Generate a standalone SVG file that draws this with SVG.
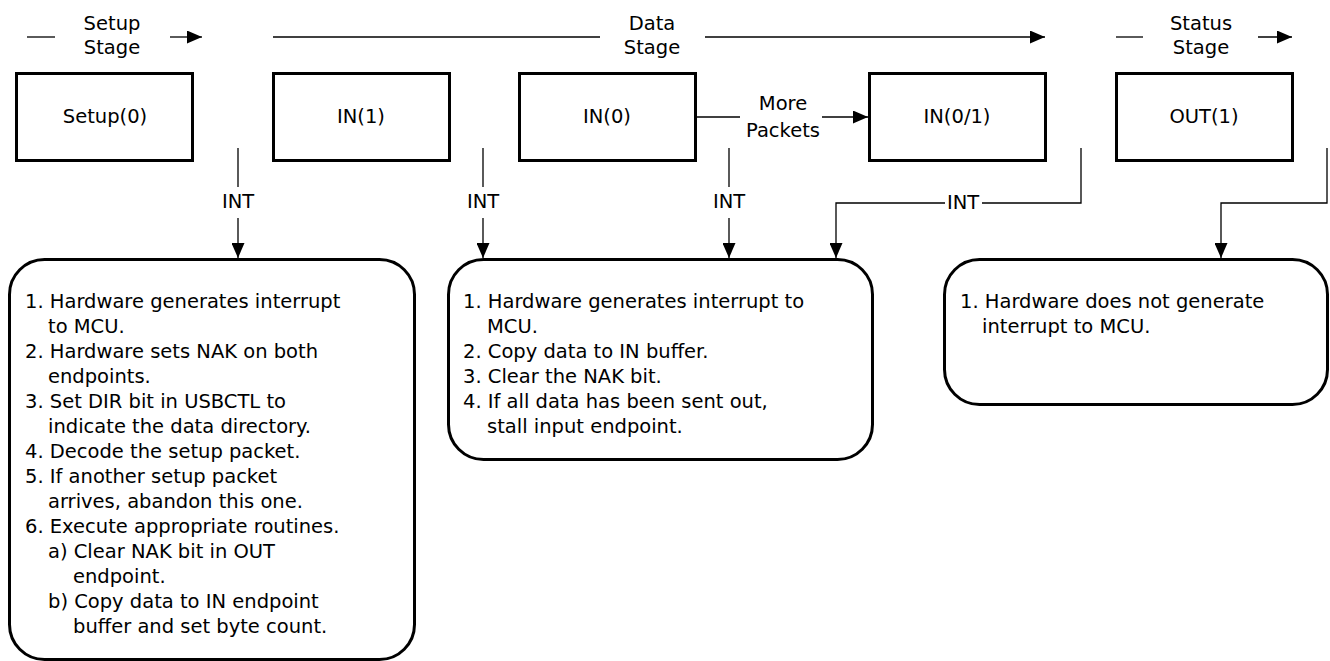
<svg xmlns="http://www.w3.org/2000/svg" width="1330" height="661" viewBox="0 0 1330 661">
<style>
text{font-family:"DejaVu Sans","Liberation Sans",sans-serif;font-size:19.5px;fill:#000}
.c{text-anchor:middle}
.node{fill:#fff;stroke:#000;stroke-width:3}
.line{fill:none;stroke:#000;stroke-width:1.3}
</style>
<defs>
<marker id="ah" markerWidth="15" markerHeight="13" refX="15" refY="6.5" orient="auto" markerUnits="userSpaceOnUse">
<path d="M0,0 L15,6.5 L0,13 Z" fill="#000"/>
</marker>
</defs>
<rect width="1330" height="661" fill="#fff"/>
<g id="stages">
<text class="c" x="112" y="30">Setup</text>
<text class="c" x="112" y="54">Stage</text>
<text class="c" x="652" y="30">Data</text>
<text class="c" x="652" y="54">Stage</text>
<text class="c" x="1201" y="30">Status</text>
<text class="c" x="1201" y="54">Stage</text>
</g>
<g id="n-setup0"><rect class="node" x="16.5" y="73.5" width="176" height="87"/><text class="c" x="105" y="123">Setup(0)</text></g>
<g id="n-in1"><rect class="node" x="273.5" y="73.5" width="176" height="87"/><text class="c" x="361" y="123">IN(1)</text></g>
<g id="n-in0"><rect class="node" x="519.5" y="73.5" width="176" height="87"/><text class="c" x="607" y="123">IN(0)</text></g>
<g id="n-in01"><rect class="node" x="869.5" y="73.5" width="176" height="87"/><text class="c" x="957" y="123">IN(0/1)</text></g>
<g id="n-out1"><rect class="node" x="1116.5" y="73.5" width="176" height="87"/><text class="c" x="1204" y="123">OUT(1)</text></g>
<g id="b-setup">
<rect class="node" x="9.5" y="259.5" width="405" height="400" rx="35" ry="35"/>
<text x="25" y="308">1. Hardware generates interrupt</text>
<text x="48" y="333">to MCU.</text>
<text x="25" y="358">2. Hardware sets NAK on both</text>
<text x="48" y="383">endpoints.</text>
<text x="25" y="408">3. Set DIR bit in USBCTL to</text>
<text x="48" y="433">indicate the data directory.</text>
<text x="25" y="458">4. Decode the setup packet.</text>
<text x="25" y="483">5. If another setup packet</text>
<text x="48" y="508">arrives, abandon this one.</text>
<text x="25" y="533">6. Execute appropriate routines.</text>
<text x="48" y="558">a) Clear NAK bit in OUT</text>
<text x="73" y="583">endpoint.</text>
<text x="48" y="608">b) Copy data to IN endpoint</text>
<text x="73" y="633">buffer and set byte count.</text>
</g>
<g id="b-data">
<rect class="node" x="448.5" y="259.5" width="424" height="200" rx="35" ry="35"/>
<text x="463" y="308">1. Hardware generates interrupt to</text>
<text x="487" y="333">MCU.</text>
<text x="463" y="358">2. Copy data to IN buffer.</text>
<text x="463" y="383">3. Clear the NAK bit.</text>
<text x="463" y="408">4. If all data has been sent out,</text>
<text x="487" y="433">stall input endpoint.</text>
</g>
<g id="b-status">
<rect class="node" x="944.5" y="259.5" width="383" height="145" rx="35" ry="35"/>
<text x="960" y="308">1. Hardware does not generate</text>
<text x="982" y="333">interrupt to MCU.</text>
</g>
<g id="connectors">
<path class="line" d="M27,37 H55"/>
<path class="line" d="M170,37 H202" marker-end="url(#ah)"/>
<path class="line" d="M273,37 H600"/>
<path class="line" d="M705,37 H1045" marker-end="url(#ah)"/>
<path class="line" d="M1116,37 H1143"/>
<path class="line" d="M1258,37 H1292" marker-end="url(#ah)"/>
<path class="line" d="M696,117 H740"/>
<path class="line" d="M822,117 H868" marker-end="url(#ah)"/>
<text class="c" x="783" y="110">More</text>
<text class="c" x="783" y="137">Packets</text>
<path class="line" d="M238,148 V187"/>
<path class="line" d="M238,218 V258" marker-end="url(#ah)"/>
<text class="c" x="238" y="208">INT</text>
<path class="line" d="M483,148 V187"/>
<path class="line" d="M483,218 V258" marker-end="url(#ah)"/>
<text class="c" x="483" y="208">INT</text>
<path class="line" d="M729,148 V187"/>
<path class="line" d="M729,218 V258" marker-end="url(#ah)"/>
<text class="c" x="729" y="208">INT</text>
<path class="line" d="M1081,148 V203 H982"/>
<path class="line" d="M945,203 H836 V258" marker-end="url(#ah)"/>
<text class="c" x="963" y="209">INT</text>
<path class="line" d="M1327,148 V203 H1221 V258" marker-end="url(#ah)"/>
</g>
</svg>
